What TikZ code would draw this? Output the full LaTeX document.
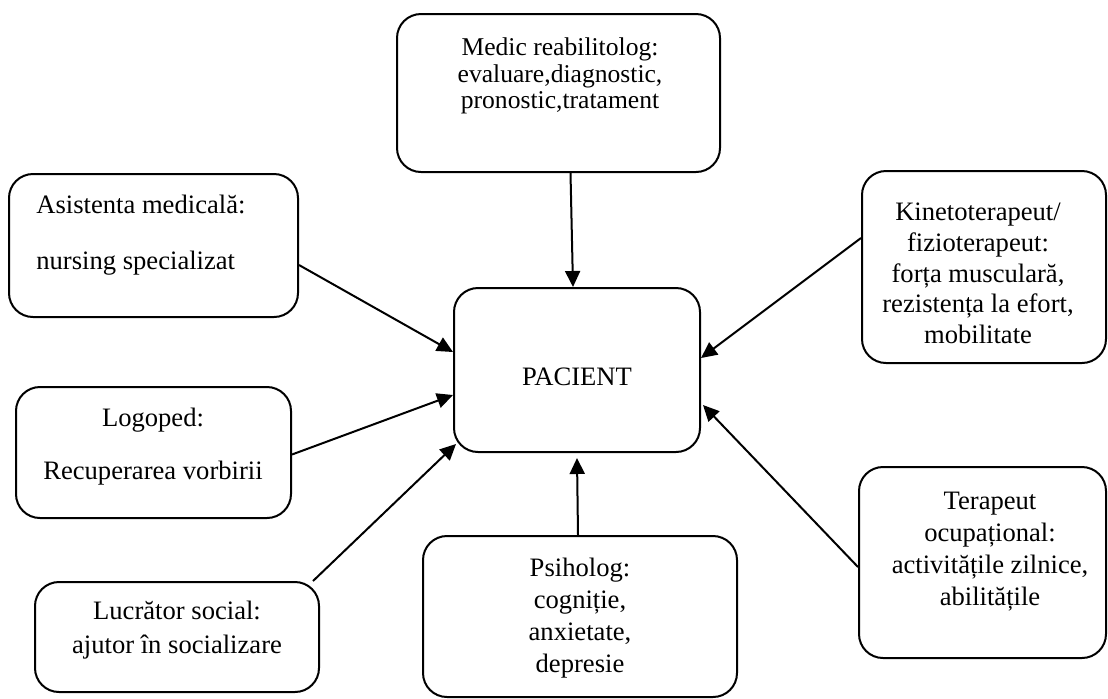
\documentclass[tikz,border=0pt]{standalone}
\usepackage{fontspec}
\setmainfont{Liberation Serif}
\usetikzlibrary{arrows.meta}
\begin{document}
\begin{tikzpicture}[x=0.5pt,y=-0.5pt,
  box/.style={draw,line width=1pt,rounded corners=12pt,inner sep=0pt},
  txt/.style={align=center,inner sep=0pt,font=\fontsize{13.3}{16}\selectfont},
  link/.style={line width=1pt,-{Triangle[length=8pt,width=7.5pt]}}]
\useasboundingbox (0,0) rectangle (1108,698);
\node[box,minimum width=161.5pt,minimum height=79pt] (medic) at (558.5,93){};
\node[box,minimum width=144.5pt,minimum height=71.5pt] (asist) at (153.5,245.5){};
\node[box,minimum width=122pt,minimum height=96pt] (kineto) at (984,267){};
\node[box,minimum width=123pt,minimum height=82pt] (pacient) at (577,370){};
\node[box,minimum width=137.5pt,minimum height=65.5pt] (logoped) at (153.5,452.5){};
\node[box,minimum width=142pt,minimum height=55pt] (lucrator) at (177,637){};
\node[box,minimum width=157pt,minimum height=80.5pt] (psiholog) at (580,616.5){};
\node[box,minimum width=123.5pt,minimum height=95.5pt] (terapeut) at (982.5,562.5){};

\node[txt,font=\fontsize{12.8}{13.2}\selectfont] (medictxt) at (560,76){Medic reabilitolog:\\ evaluare,diagnostic,\\ pronostic,tratament};
\node[txt,align=left,anchor=west] (asisttxt) at (36,235){Asistenta medicală:\\[12pt] nursing specializat};
\node[txt,font=\fontsize{13.3}{15.4}\selectfont] (kinetotxt) at (978,273.5){Kinetoterapeut/\\ fizioterapeut:\\ forța musculară,\\ rezistența la efort,\\ mobilitate};
\node[txt] (pacienttxt) at (577,377){PACIENT};
\node[txt] (logopedtxt) at (153,446.5){Logoped:\\[10.5pt] Recuperarea vorbirii};
\node[txt,font=\fontsize{13.3}{17}\selectfont] (lucratortxt) at (177,630){Lucrător social:\\ ajutor în socializare};
\node[txt] (psihologtxt) at (580,618.5){Psiholog:\\ cogniție,\\ anxietate,\\ depresie};
\node[txt] (terapeuttxt) at (990,551.5){Terapeut\\ ocupațional:\\ activitățile zilnice,\\ abilitățile};

\draw[link] ([xshift=6pt]medic.south) -- ([xshift=-2pt]pacient.north);
\draw[link] ([yshift=-9.75pt]asist.east) -- ([yshift=9pt]pacient.west);
\draw[link] ([yshift=14.5pt]kineto.west) -- ([yshift=6pt]pacient.east);
\draw[link] ([yshift=-1pt]logoped.east) -- ([yshift=-12.5pt]pacient.west);
\draw[link] ([xshift=68pt]lucrator.north) -- ([xshift=1.5pt,yshift=4.5pt]pacient.south west);
\draw[link] ([xshift=-1pt]psiholog.north) -- ([yshift=-2.5pt]pacient.south);
\draw[link] ([yshift=-2.25pt]terapeut.west) -- ([xshift=1pt,yshift=-17.5pt]pacient.east);
\end{tikzpicture}
\end{document}
